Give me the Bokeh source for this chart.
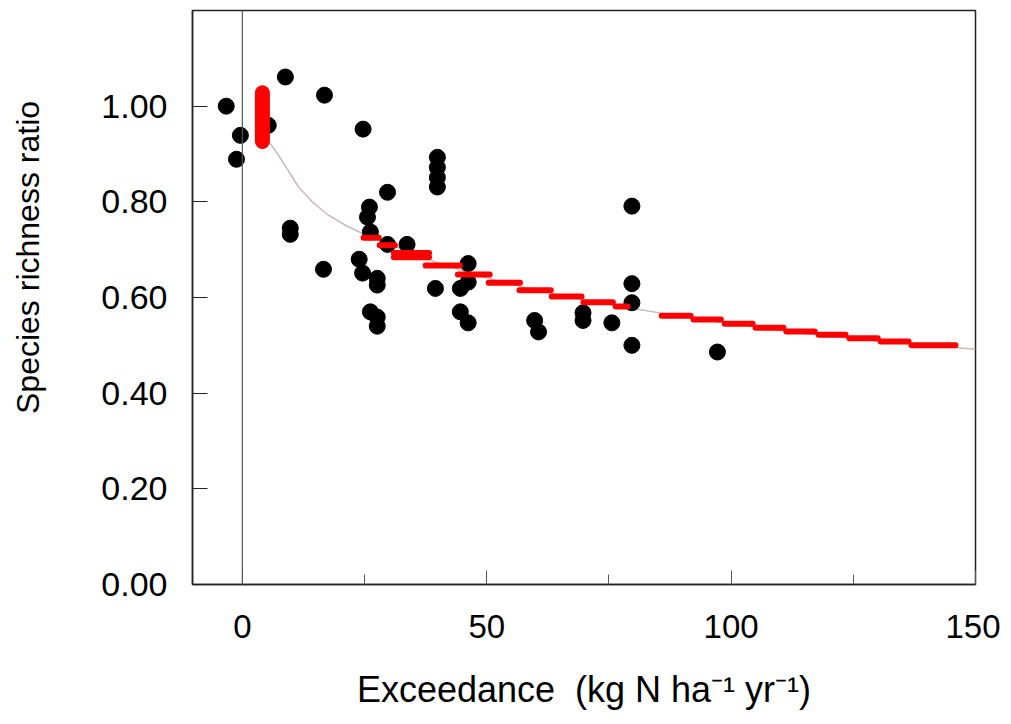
from bokeh.plotting import figure
from bokeh.models import Range1d, FixedTicker, NumeralTickFormatter, Span
from bokeh.embed import file_html
from bokeh.resources import INLINE

# observed points
pts_x = [-3.3, -0.4, -1.2, 5.3, 8.8, 16.8, 24.7, 9.8, 9.8, 16.6, 29.7, 26.0, 25.6, 26.2,
         29.7, 33.7, 23.9, 24.6, 27.6, 27.6, 26.2, 27.6, 27.6, 39.5, 39.9, 39.9, 39.9, 39.9,
         46.2, 46.2, 44.6, 44.6, 46.2, 59.8, 60.6, 69.7, 69.7, 75.6, 79.7, 79.7, 79.7, 79.7, 97.2]
pts_y = [1.00, 0.939, 0.889, 0.960, 1.061, 1.023, 0.952, 0.745, 0.732, 0.659, 0.820, 0.789,
         0.768, 0.737, 0.711, 0.711, 0.680, 0.651, 0.640, 0.626, 0.570, 0.559, 0.540, 0.619,
         0.893, 0.872, 0.851, 0.831, 0.671, 0.632, 0.619, 0.570, 0.547, 0.552, 0.528, 0.568,
         0.552, 0.547, 0.791, 0.629, 0.589, 0.500, 0.486]

# fitted curve
curve_x = [5.5, 7.4, 9.1, 11.5, 14.3, 17.6, 21.1, 24.5, 30, 40, 50, 60, 70, 80, 90,
           100, 110, 120, 130, 140, 150]
curve_y = [0.925, 0.897, 0.870, 0.831, 0.800, 0.772, 0.751, 0.734, 0.712, 0.672, 0.641,
           0.615, 0.595, 0.577, 0.560, 0.545, 0.531, 0.519, 0.509, 0.500, 0.492]

# red step segments
step_x0 = [24.8, 28.1, 31.0, 31.0, 37.5, 44.1, 50.4, 56.7, 63.3, 69.8, 76.4, 85.8, 92.3,
           98.7, 105.0, 111.3, 117.9, 124.2, 130.6, 136.9]
step_x1 = [27.9, 31.2, 38.2, 38.2, 44.5, 50.6, 56.8, 63.1, 69.4, 75.8, 78.8, 91.7, 97.9,
           104.4, 110.7, 117.1, 123.4, 130.0, 136.3, 145.9]
step_y = [0.725, 0.709, 0.693, 0.684, 0.667, 0.648, 0.631, 0.615, 0.602, 0.590, 0.581,
          0.562, 0.554, 0.545, 0.537, 0.529, 0.522, 0.515, 0.508, 0.500]

# red vertical band near the origin
band_x = [4.1]
band_y0 = [0.926]
band_y1 = [1.028]

x_ticks = [0, 50, 100, 150]
x_minor = [25, 75, 125]
y_ticks = [0.0, 0.2, 0.4, 0.6, 0.8, 1.0]

x_title = "Exceedance\u00a0\u00a0(kg N ha\u207b\u00b9 yr\u207b\u00b9)"
y_title = "Species richness ratio"

FONT = "Liberation Sans"
H = 718

p = figure(width=1000, height=H, output_backend="svg", toolbar_location=None,
           x_range=Range1d(-10.2, 150), y_range=Range1d(0, 1.2),
           min_border_left=192, min_border_right=25, min_border_top=10, min_border_bottom=134)
p.grid.visible = False
p.outline_line_color = "#222222"
p.outline_line_width = 1.5
p.background_fill_color = "white"
p.border_fill_color = "white"

p.add_layout(Span(location=0, dimension="height", line_color="#555555", line_width=1.2))

p.line(curve_x, curve_y, line_color="#c9b9b9", line_width=1.5)
p.scatter(pts_x, pts_y, size=16, fill_color="black", line_color="black")
p.segment(x0=step_x0, y0=step_y, x1=step_x1, y1=step_y, line_color="#ff0000",
          line_width=6, line_cap="round")
p.segment(x0=band_x, y0=band_y0, x1=band_x, y1=band_y1, line_color="#ff0000",
          line_width=15, line_cap="round")

xa = p.xaxis[0]
xa.ticker = FixedTicker(ticks=x_ticks, minor_ticks=x_minor)
xa.major_tick_in = 14
xa.major_tick_out = 0
xa.minor_tick_in = 10
xa.minor_tick_out = 0
xa.major_label_standoff = 30
xa.major_label_text_font = FONT
xa.major_label_text_font_size = "33px"
xa.major_label_text_color = "black"
xa.axis_label = x_title
xa.axis_label_text_font = FONT
xa.axis_label_text_font_size = "36px"
xa.axis_label_text_font_style = "normal"
xa.axis_label_text_color = "black"
xa.axis_label_standoff = 28
xa.axis_line_color = "#222222"
xa.axis_line_width = 1.5
xa.major_tick_line_color = "#555555"
xa.minor_tick_line_color = "#555555"

ya = p.yaxis[0]
ya.ticker = FixedTicker(ticks=y_ticks, minor_ticks=[])
ya.formatter = NumeralTickFormatter(format="0.00")
ya.major_tick_in = 15
ya.major_tick_out = 0
ya.minor_tick_in = 0
ya.minor_tick_out = 0
ya.major_label_standoff = 25
ya.major_label_text_font = FONT
ya.major_label_text_font_size = "34px"
ya.major_label_text_color = "black"
ya.axis_line_color = "#222222"
ya.axis_line_width = 1.5
ya.major_tick_line_color = "#222222"
# leading no-break spaces lift the rotated title to where the reference has it
ya.axis_label = "\u00a0" * 9 + y_title
ya.axis_label_text_font = FONT
ya.axis_label_text_font_size = "32px"
ya.axis_label_text_font_style = "normal"
ya.axis_label_text_color = "black"
ya.axis_label_standoff = 52

open("out.html", "w").write(file_html(p, INLINE))
